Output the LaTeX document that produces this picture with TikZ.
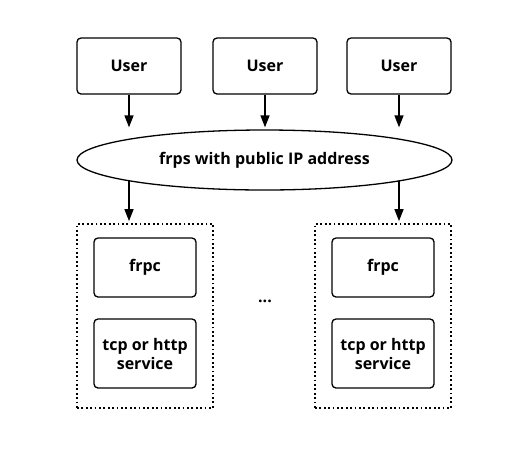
\documentclass[tikz,border=0pt]{standalone}
\usepackage{fontspec}
\setmainfont{Open Sans}
\usetikzlibrary{arrows.meta, shapes.geometric, positioning}

\tikzset{
    boxstyle/.style={draw, rounded corners=4pt, line width=1.3pt, align=center,
        minimum width=104pt, inner sep=0pt},
    groupstyle/.style={draw, line width=1.8pt, dash pattern=on 1.8pt off 2.6pt,
        minimum width=136pt, minimum height=184pt, inner sep=0pt},
    arrowstyle/.style={-{Triangle[length=12pt,width=9pt]}, line width=1.4pt, shorten >=2pt}
}

\begin{document}
\begin{tikzpicture}[x=1pt, y=-1pt, font=\bfseries\fontsize{16}{19}\selectfont]
\useasboundingbox (0,0) rectangle (532,456);

% users on top
\foreach \n/\x in {1/129, 2/265, 3/399}
{
    \node[boxstyle, minimum height=56pt] (user\n) at (\x,66) {User};
};

\node[draw, ellipse, line width=1.3pt, minimum width=375pt, minimum height=60pt,
    inner sep=0pt] (frps) at (264.5,160) {frps with public IP address};

\foreach \n in {1,2,3}
{
    \draw[arrowstyle] (user\n.south) -- (user\n.south |- frps.north);
};

% the two client groups
\foreach \n/\x in {1/145, 2/383}
{
    \node[groupstyle] (group\n) at (\x,316) {};
    \node[boxstyle, minimum width=102pt, minimum height=59pt] (frpc\n) at (\x,267.5) {frpc};
    \node[boxstyle, minimum width=102pt, minimum height=69pt] (service\n) at (\x,353.5) {tcp or http\\service};
};

\draw[arrowstyle, shorten <=20.7pt] (user1.south |- frps.center) -- (user1.south |- group1.north);
\draw[arrowstyle, shorten <=20.9pt] (user3.south |- frps.center) -- (user3.south |- group2.north);

\node (dots) at (265,301) {...};

\end{tikzpicture}
\end{document}
